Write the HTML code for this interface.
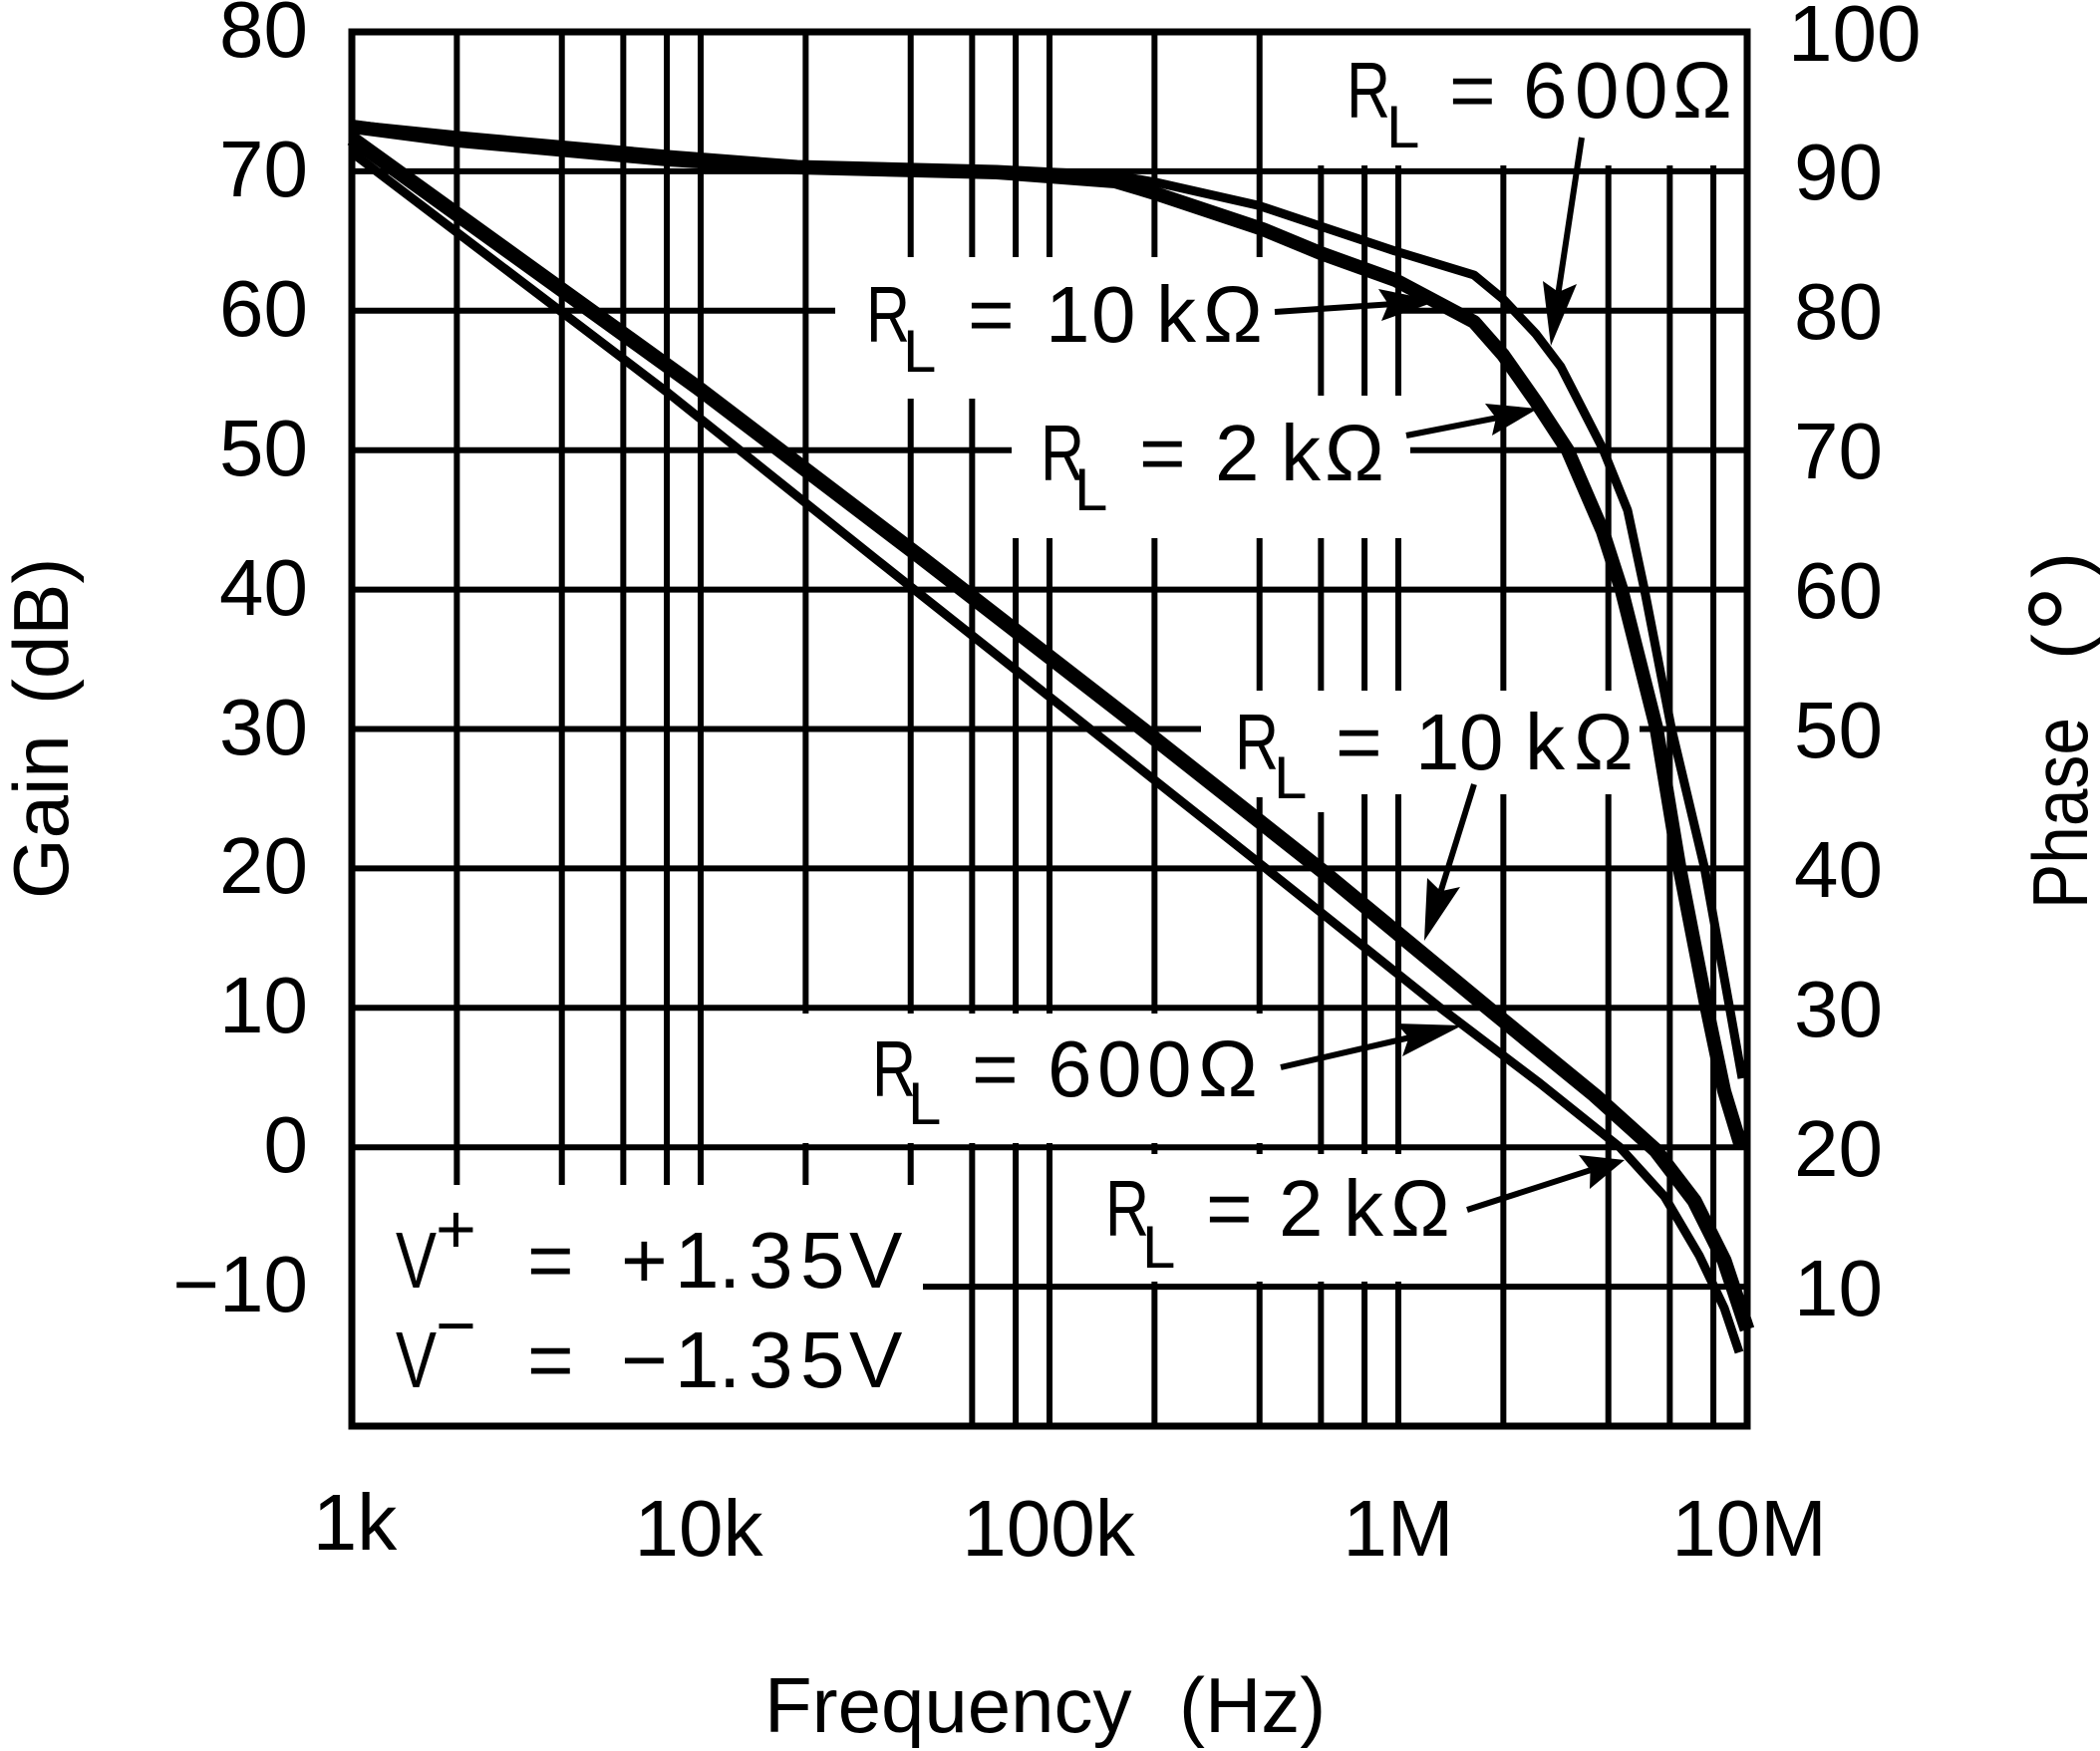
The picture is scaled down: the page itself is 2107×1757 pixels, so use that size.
<!DOCTYPE html>
<html>
<head>
<meta charset="utf-8">
<style>
  html,body{margin:0;padding:0;background:#fff;}
  svg{display:block;}
  text{font-family:"Liberation Sans",Arial,Helvetica,sans-serif;fill:#000;}
</style>
</head>
<body>
<svg width="2107" height="1757" viewBox="0 0 2107 1757" xmlns="http://www.w3.org/2000/svg">
<rect x="0" y="0" width="2107" height="1757" fill="#fff"/>

<!-- grid -->
<path fill="none" stroke="#000" stroke-width="6" d="
M458.36 32V1189 M563.72 32V1189 M625.35 32V1189 M669.08 32V1189 M703 32V1189
M808.36 32V1017 M808.36 1147V1189
M913.72 32V258 M913.72 400V1017 M913.72 1147V1189
M975.35 32V258 M975.35 400V1017 M975.35 1147V1431
M1019.08 32V258 M1019.08 540V1017 M1019.08 1147V1431
M1053 32V258 M1053 540V1017 M1053 1147V1431
M1158.36 32V258 M1158.36 540V1017 M1158.36 1147V1158 M1158.36 1286V1431
M1263.72 32V258 M1263.72 540V693 M1263.72 800V1017 M1263.72 1147V1158 M1263.72 1286V1431
M1325.35 166V397 M1325.35 540V693 M1325.35 815V1158 M1325.35 1286V1431
M1369.08 166V397 M1369.08 540V693 M1369.08 797V1158 M1369.08 1286V1431
M1403 166V397 M1403 540V693 M1403 797V1158 M1403 1286V1431
M1508.36 166V693 M1508.36 797V1431
M1613.72 166V693 M1613.72 797V1431
M1675.35 166V1431
M1719.08 166V1431
M353 171.9H1753
M353 311.8H838 M1400 311.8H1753
M353 451.7H1015 M1415 451.7H1753
M353 591.6H1753
M353 731.5H1205 M1645 731.5H1753
M353 871.4H1753
M353 1011.3H1753
M353 1151.2H1753
M926 1291.1H1753
"/>
<rect x="353" y="32" width="1400" height="1399" fill="none" stroke="#000" stroke-width="7"/>

<!-- phase curves -->
<polyline fill="none" stroke="#000" stroke-width="9" stroke-linejoin="round" points="353,125 460,136 670,155 800,165 1000,170 1119,176 1160,183 1262,206 1325,227 1400,252 1479,276 1508,300 1541,335 1566,368 1608,450 1633,512 1650,592 1677,731 1710,870 1735,1009 1748,1082"/>
<polyline fill="none" stroke="#000" stroke-width="14" stroke-linejoin="round" points="353,127 460,141 670,160 800,168 1000,173 1119,182 1159,194 1267,230 1325,254 1400,281 1479,323 1508,356 1541,403 1573,452 1608,533 1627,592 1662,731 1685,870 1712,1009 1730,1095 1747,1151"/>

<!-- gain curves -->
<polyline fill="none" stroke="#000" stroke-width="15" stroke-linejoin="round" points="353,139 700,389 923,558.5 1150,734.4 1328,875 1496,1014 1600,1099 1661,1154 1700,1205 1730,1265 1753,1334"/>
<polyline fill="none" stroke="#000" stroke-width="9" stroke-linejoin="round" points="353,153 670,394 880,562 1269,870.5 1443,1009.7 1545,1087 1625,1151 1670,1200.5 1705,1260 1730,1312.5 1745,1357"/>

<!-- arrows -->
<g stroke="#000" stroke-width="6" fill="none">
  <line x1="1587" y1="138" x2="1563.6" y2="293"/>
  <line x1="1279" y1="313" x2="1393" y2="305.4"/>
  <line x1="1411" y1="437" x2="1501" y2="419.4"/>
  <line x1="1479" y1="787" x2="1445.6" y2="894.3"/>
  <line x1="1285" y1="1071" x2="1413.5" y2="1041.3"/>
  <line x1="1472" y1="1214" x2="1595.6" y2="1174.2"/>
</g>
<g fill="#000">
  <polygon points="1548,282 1563.6,293 1582,285 1556,347"/>
  <polygon points="1383,290 1393,305.4 1386,322 1442,302"/>
  <polygon points="1490,405 1501,419.4 1497,437 1543,410"/>
  <polygon points="1432,881 1445.6,894.3 1465,890 1429,944"/>
  <polygon points="1401,1027 1413.5,1041.3 1407,1060 1467,1029"/>
  <polygon points="1584,1159 1595.6,1174.2 1595,1193 1630,1164"/>
</g>

<!-- left axis labels -->
<g font-size="80" text-anchor="end">
  <text x="309" y="57">80</text>
  <text x="309" y="197">70</text>
  <text x="309" y="337">60</text>
  <text x="309" y="477">50</text>
  <text x="309" y="617">40</text>
  <text x="309" y="757">30</text>
  <text x="309" y="896">20</text>
  <text x="309" y="1036">10</text>
  <text x="309" y="1176">0</text>
  <text x="309" y="1316">−10</text>
</g>

<!-- right axis labels -->
<g font-size="80">
  <text x="1794" y="61">100</text>
  <text x="1800" y="200">90</text>
  <text x="1800" y="340">80</text>
  <text x="1800" y="480">70</text>
  <text x="1800" y="620">60</text>
  <text x="1800" y="760">50</text>
  <text x="1800" y="900">40</text>
  <text x="1800" y="1040">30</text>
  <text x="1800" y="1180">20</text>
  <text x="1800" y="1320">10</text>
</g>

<!-- x axis labels -->
<g font-size="80" text-anchor="middle">
  <text x="356" y="1555">1k</text>
  <text x="701" y="1561">10k</text>
  <text x="1052" y="1561">100k</text>
  <text x="1403" y="1561">1M</text>
  <text x="1755" y="1561">10M</text>
</g>

<!-- axis titles -->
<text x="767" y="1738" font-size="78">Frequency</text>
<text x="1183" y="1738" font-size="78">(Hz)</text>

<text transform="translate(68,902) rotate(-90)" font-size="78">Gain</text>
<text transform="translate(68,707) rotate(-90)" font-size="78">(dB)</text>

<text transform="translate(2094,912) rotate(-90)" font-size="78" textLength="192" lengthAdjust="spacingAndGlyphs">Phase</text>
<text transform="translate(2094,662) rotate(-90)" font-size="78">(</text>
<text transform="translate(2119,635) rotate(-90)" font-size="120">°</text>
<text transform="translate(2094,580) rotate(-90)" font-size="78">)</text>

<!-- curve labels -->
<g font-size="80">
  <!-- A: RL = 600 top -->
  <text x="1351" y="118" textLength="44" lengthAdjust="spacingAndGlyphs">R</text>
  <text x="1391" y="148" font-size="60">L</text>
  <text x="1454 1528 1580 1629 1678" y="118">=600Ω</text>

  <!-- B: RL = 10 k upper -->
  <text x="869" y="343" textLength="44" lengthAdjust="spacingAndGlyphs">R</text>
  <text x="906" y="373" font-size="60">L</text>
  <text x="971 1049 1095 1160 1207" y="343">=10kΩ</text>

  <!-- C: RL = 2 k upper -->
  <text x="1044" y="482" textLength="44" lengthAdjust="spacingAndGlyphs">R</text>
  <text x="1078" y="512" font-size="60">L</text>
  <text x="1143 1219 1285 1329" y="482">=2kΩ</text>

  <!-- D: RL = 10 k lower -->
  <text x="1239" y="772" textLength="44" lengthAdjust="spacingAndGlyphs">R</text>
  <text x="1278" y="801" font-size="60">L</text>
  <text x="1340 1420 1464 1530 1579" y="772">=10kΩ</text>

  <!-- E: RL = 600 lower -->
  <text x="875" y="1100" textLength="44" lengthAdjust="spacingAndGlyphs">R</text>
  <text x="911" y="1128" font-size="60">L</text>
  <text x="975 1051 1101 1151 1202" y="1100">=600Ω</text>

  <!-- F: RL = 2 k lower -->
  <text x="1109" y="1240" textLength="44" lengthAdjust="spacingAndGlyphs">R</text>
  <text x="1146" y="1272" font-size="60">L</text>
  <text x="1210 1283 1348 1395" y="1240">=2kΩ</text>

  <!-- supply box -->
  <text x="397" y="1292" textLength="41" lengthAdjust="spacingAndGlyphs">V</text>
  <text x="437" y="1257" font-size="70">+</text>
  <text x="529" y="1292">=</text>
  <text x="623" y="1292">+</text>
  <text x="677 721 751 803 852" y="1292">1.35V</text>

  <text x="397" y="1392" textLength="41" lengthAdjust="spacingAndGlyphs">V</text>
  <text x="437" y="1354" font-size="70">−</text>
  <text x="529" y="1392">=</text>
  <text x="623" y="1392">−</text>
  <text x="677 721 751 803 852" y="1392">1.35V</text>
</g>
</svg>
</body>
</html>
